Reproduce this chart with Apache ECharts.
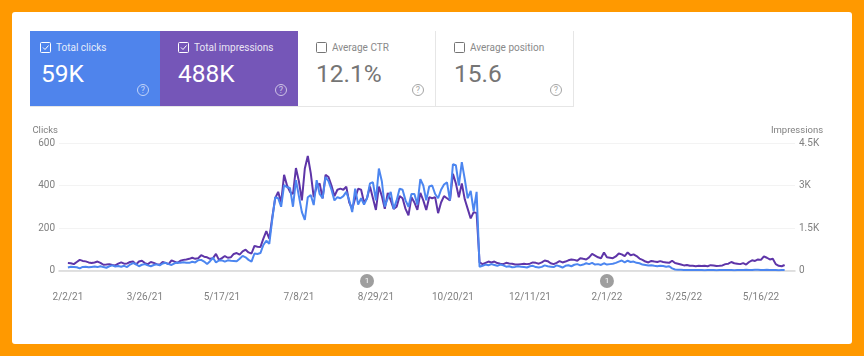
<!DOCTYPE html>
<html>
<head>
<meta charset="utf-8">
<script src="https://cdn.jsdelivr.net/npm/echarts@6/dist/echarts.min.js"></script>
<style>
html, body { margin: 0; padding: 0; }
body { width: 864px; height: 356px; background: #ff9900; overflow: hidden; font-family: Roboto, sans-serif; }
#panel { position: absolute; left: 12px; top: 12px; width: 840px; height: 332px; background: #fff; border-radius: 3px; }
#chart { position: absolute; left: 0; top: 0; width: 864px; height: 356px; }
.card { position: absolute; top: 31px; height: 76px; box-sizing: border-box; color: #757575; }
.card.plain { background: #fff; border-right: 1px solid #e6e6e6; border-bottom: 1px solid #e6e6e6; }
.card.on { color: #fff; border-bottom: 1px solid #e6e6e6; }
.box { position: absolute; left: 10px; top: 11px; width: 11px; height: 11px; box-sizing: border-box; border: 1px solid #757575; border-radius: 1.5px; }
.on .box { border-color: #fff; }
.box svg { position: absolute; left: 0; top: 0; }
.title { position: absolute; left: 26px; top: 10px; font-size: 10px; line-height: 13px; white-space: nowrap; opacity: .85; }
.value { position: absolute; left: 11px; top: 28px; font-size: 24.5px; line-height: 30px; white-space: nowrap; }
.help { position: absolute; right: 11px; bottom: 10px; width: 12px; height: 12px; box-sizing: border-box; border: 1px solid currentColor; border-radius: 50%; font-size: 9px; line-height: 10px; text-align: center; opacity: .65; }
</style>
</head>
<body>
<div id="panel"></div>
<div id="chart"></div>

<div class="card on" style="left:30px;width:130px;background:#4f84ec">
  <div class="box"><svg width="9" height="9"><path d="M2 4.5 L4 6.5 L7.5 2.5" fill="none" stroke="#fff" stroke-width="1"/></svg></div>
  <div class="title">Total clicks</div><div class="value">59K</div><div class="help">?</div>
</div>
<div class="card on" style="left:160px;width:138px;background:#7556b8">
  <div class="box" style="left:18px"><svg width="9" height="9"><path d="M2 4.5 L4 6.5 L7.5 2.5" fill="none" stroke="#fff" stroke-width="1"/></svg></div>
  <div class="title" style="left:34px">Total impressions</div><div class="value" style="left:18px">488K</div><div class="help">?</div>
</div>
<div class="card plain" style="left:298px;width:138px">
  <div class="box" style="left:18px"></div>
  <div class="title" style="left:34px">Average CTR</div><div class="value" style="left:18px">12.1%</div><div class="help">?</div>
</div>
<div class="card plain" style="left:436px;width:138px">
  <div class="box" style="left:18px"></div>
  <div class="title" style="left:34px">Average position</div><div class="value" style="left:18px">15.6</div><div class="help">?</div>
</div>

<script type="text/javascript">
// one reading every second day, starting on 2/2/21
var firstDay = '2/2/21';
var stepDays = 2;

var clicks = [
  14,18,17,15,10,17,18,15,17,19,
  16,20,16,13,20,24,19,21,18,22,
  16,28,35,30,20,27,30,24,20,26,
  29,24,33,36,30,26,34,38,36,39,
  37,36,41,38,48,50,42,31,44,60,
  38,47,48,42,48,46,45,43,55,69,
  62,50,42,80,78,82,120,140,125,240,
  345,340,300,402,392,388,300,425,350,275,
  238,345,355,308,425,360,340,440,420,380,
  330,345,340,350,370,330,275,385,310,340,
  310,340,410,415,330,480,420,300,340,370,
  290,330,385,380,330,300,360,360,310,430,
  400,330,395,400,360,340,380,405,415,330,
  500,495,400,510,430,340,375,280,370,
  18,22,28,25,30,26,22,28,24,18,20,15,
  17,20,18,16,14,20,22,16,14,17,
  24,20,18,16,24,20,14,22,25,20,
  27,30,24,28,34,30,36,28,30,26,
  34,28,30,32,36,42,47,38,46,40,
  42,36,34,28,26,24,25,22,20,22,
  21,18,20,10,5,3,3,2,2,2,2,2,
  2,2,1,2,2,2,1,2,2,2,
  2,2,1,2,2,2,3,2,2,3,
  3,2,2,3,2,2,2,1,2,2
];

var impressions = [
  262,255,225,300,375,338,322,285,262,285,
  315,270,202,210,225,195,180,240,285,240,
  248,300,315,210,315,345,262,225,300,270,
  225,202,300,270,225,360,315,270,345,375,
  390,412,450,412,435,540,488,465,412,435,
  585,375,435,510,450,465,585,615,562,675,
  735,638,600,870,840,825,1125,1388,1125,1875,
  2550,
  2775,2400,3375,3000,2775,2700,3615,3150,2475,3600,
  4042,3435,2588,2962,3075,2550,3375,3300,3000,2625,
  2850,2888,2850,2962,2400,2175,2550,2888,2850,2400,
  2550,2962,2550,2138,2962,2625,2175,2738,2475,2175,
  2250,2625,2550,2175,1950,2588,2400,2138,2738,2475,
  2138,2588,2550,2588,2025,2400,2625,2550,2475,3412,
  3075,2588,3075,2512,2175,1838,2062,2025,
  285,225,270,315,285,315,262,240,225,270,248,240,
  210,210,225,240,225,240,285,270,240,285,
  352,330,255,225,270,330,285,315,360,390,
  375,345,435,412,390,465,585,525,465,435,
  638,465,450,435,495,600,570,510,638,540,
  570,510,420,375,315,285,338,315,300,330,
  300,285,270,345,262,240,210,180,195,165,165,150,
  165,158,165,150,188,180,158,165,180,225,
  240,300,255,240,225,262,210,300,360,338,
  390,375,502,450,390,412,225,165,150,195
];

var dateLabels = ['2/2/21', '3/26/21', '5/17/21', '7/8/21', '8/29/21', '10/20/21', '12/11/21', '2/1/22', '3/25/22', '5/16/22'];
var annotationDates = ['8/23/21', '2/1/22'];
var annotationText = '1';

var DAY = 86400000;
var xMin = -6;
var xMax = 491;

function toTime(label) {
    var p = label.split('/');
    return Date.UTC(2000 + Number(p[2]), Number(p[0]) - 1, Number(p[1]));
}

// x axis counts days since firstDay, so the ticks can stay at the 52 day steps of the original
function toDays(label) {
    return Math.round((toTime(label) - toTime(firstDay)) / DAY);
}

function pairs(values) {
    return values.map(function (v, i) {
        return [i * stepDays, v];
    });
}

var Chart = echarts.init(document.getElementById('chart'), null, { renderer: 'canvas' });

Chart.setOption({
    animation: false,
    // second grid is the thin strip under the axis that holds the annotation badges
    grid: [
        { left: 59, right: 69, top: 143, bottom: 85.5 },
        { left: 59, right: 69, top: 274, bottom: 68 }
    ],
    xAxis: [{
        type: 'value',
        min: xMin,
        max: xMax,
        axisLine: { onZero: false, lineStyle: { color: '#d8d8d8', width: 1.5 } },
        axisTick: { show: false },
        splitLine: { show: false },
        axisLabel: {
            color: '#808080', fontSize: 10, fontFamily: 'Roboto', margin: 22, hideOverlap: false,
            customValues: dateLabels.map(toDays),
            formatter: function (v) {
                var d = new Date(toTime(firstDay) + v * DAY);
                return (d.getUTCMonth() + 1) + '/' + d.getUTCDate() + '/' + String(d.getUTCFullYear()).slice(2);
            }
        }
    }, {
        type: 'value',
        gridIndex: 1,
        min: xMin,
        max: xMax,
        show: false
    }],
    yAxis: [{
        type: 'value',
        name: 'Clicks',
        nameGap: 7,
        nameTextStyle: { color: '#808080', fontSize: 9.5, fontFamily: 'Roboto', align: 'right', padding: [0, 10, 0, 0] },
        min: 0,
        max: 600,
        interval: 200,
        axisLine: { show: false },
        axisTick: { show: false },
        axisLabel: { color: '#808080', fontSize: 10, fontFamily: 'Roboto', margin: 4 },
        splitLine: { lineStyle: { color: '#f3f3f3' } }
    }, {
        type: 'value',
        name: 'Impressions',
        nameGap: 7,
        nameTextStyle: { color: '#808080', fontSize: 9.5, fontFamily: 'Roboto', align: 'center', padding: [0, 0, 0, 4] },
        min: 0,
        max: 4500,
        interval: 1500,
        axisLine: { show: false },
        axisTick: { show: false },
        axisLabel: {
            color: '#808080', fontSize: 10, fontFamily: 'Roboto', margin: 4,
            formatter: function (v) { return v >= 1000 ? (v / 1000) + 'K' : String(v); }
        },
        splitLine: { show: false }
    }, {
        type: 'value',
        gridIndex: 1,
        min: -1,
        max: 1,
        show: false
    }],
    series: [{
        name: 'Impressions',
        type: 'line',
        yAxisIndex: 1,
        data: pairs(impressions),
        showSymbol: false,
        lineStyle: { color: '#5e35a8', width: 2 },
        itemStyle: { color: '#5e35a8' },
        z: 2
    }, {
        name: 'Clicks',
        type: 'line',
        yAxisIndex: 0,
        data: pairs(clicks),
        showSymbol: false,
        lineStyle: { color: '#4c86f0', width: 2 },
        itemStyle: { color: '#4c86f0' },
        z: 3
    }, {
        name: 'Annotations',
        type: 'scatter',
        xAxisIndex: 1,
        yAxisIndex: 2,
        clip: false,
        symbol: 'circle',
        symbolSize: 14,
        itemStyle: { color: '#9e9e9e', opacity: 1 },
        label: { show: true, position: 'inside', color: '#fff', fontSize: 8, fontFamily: 'Roboto', formatter: annotationText },
        data: annotationDates.map(function (d) {
            return [toDays(d), 0];
        })
    }]
});
</script>
</body>
</html>
